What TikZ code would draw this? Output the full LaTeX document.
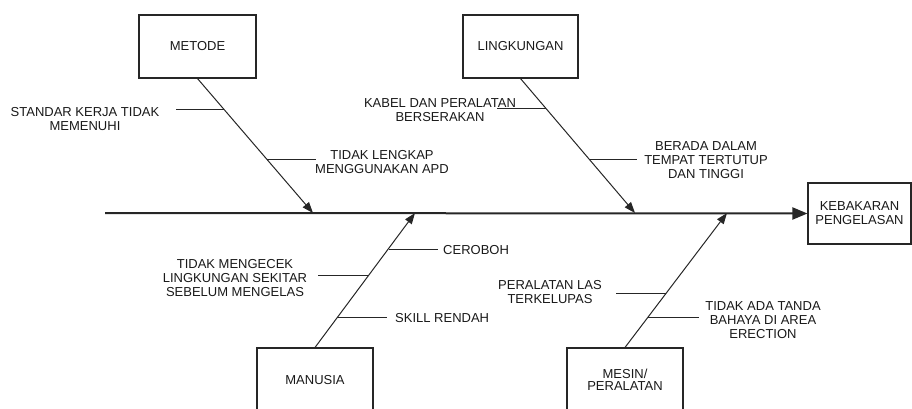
\documentclass[tikz,border=0pt]{standalone}
\usepackage{fontspec}
\setmainfont{Liberation Sans}
\usetikzlibrary{arrows.meta}
\begin{document}
\begin{tikzpicture}[x=1pt,y=-1pt,
  every node/.style={font=\fontsize{13}{14}\selectfont, inner sep=0pt, align=center, text=black!90},
  box/.style={draw=black!85, line width=1.1pt, rectangle},
  bone/.style={draw=black!85, line width=1pt, -{Triangle[length=11pt,width=8pt]}},
  rib/.style={draw=black!85, line width=0.9pt},
  spineline/.style={draw=black!85, line width=2pt, -{Triangle[length=15pt,width=12pt]}}]
\useasboundingbox (0,0) rectangle (912,408);
\clip (0,0) rectangle (912,408);

% category boxes
\node[box, minimum width=117pt, minimum height=63pt] (metode) at (197.5,46.5) {METODE};
\node[box, minimum width=115pt, minimum height=63pt] (lingk) at (520.5,46.5) {LINGKUNGAN};
\node[box, minimum width=116pt, minimum height=64pt] (manusia) at (315,380) {MANUSIA};
\node[box, minimum width=116pt, minimum height=64pt, font=\fontsize{13}{12.5}\selectfont] (mesin) at (625,380) {MESIN/\\PERALATAN};
\node[box, minimum width=103pt, minimum height=61pt] (effect) at (859.5,213.5) {KEBAKARAN\\PENGELASAN};

% spine
\coordinate (tail) at (105,213);
\draw[spineline] (tail) -- (effect.west);

% bone tips on spine
\coordinate (t1) at (313,213);
\coordinate (t2) at (635,213);
\coordinate (t3) at (415,213);
\coordinate (t4) at (727,213);
\draw[bone] (metode.south) -- (t1);
\draw[bone] (lingk.south) -- (t2);
\draw[bone] (manusia.north) -- (t3);
\draw[bone] (mesin.north) -- (t4);

% ribs
\coordinate (r1a) at (176,109); \coordinate (r1b) at (224,109);
\coordinate (r2a) at (267,159); \coordinate (r2b) at (316,159);
\coordinate (r3a) at (497,108); \coordinate (r3b) at (546,108);
\coordinate (r4a) at (590,159); \coordinate (r4b) at (637,159);
\coordinate (r5a) at (389,249); \coordinate (r5b) at (438,249);
\coordinate (r6a) at (318,275); \coordinate (r6b) at (368,275);
\coordinate (r7a) at (337,317); \coordinate (r7b) at (387,317);
\coordinate (r8a) at (616,293); \coordinate (r8b) at (666,293);
\coordinate (r9a) at (648,317); \coordinate (r9b) at (699,317);
\foreach \r in {1,...,9} {\draw[rib] (r\r a) -- (r\r b);}

% cause labels
\node (c1) at (85,119) {STANDAR KERJA TIDAK\\MEMENUHI};
\node (c2) at (382,162.5) {TIDAK LENGKAP\\MENGGUNAKAN APD};
\node (c3) at (440,110) {KABEL DAN PERALATAN\\BERSERAKAN};
\node (c4) at (706,160) {BERADA DALAM\\TEMPAT TERTUTUP\\DAN TINGGI};
\node[anchor=west] (c5) at (443,250) {CEROBOH};
\node (c6) at (235,278) {TIDAK MENGECEK\\LINGKUNGAN SEKITAR\\SEBELUM MENGELAS};
\node[anchor=west] (c7) at (395,318) {SKILL RENDAH};
\node (c8) at (550,292.5) {PERALATAN LAS\\TERKELUPAS};
\node (c9) at (763,320) {TIDAK ADA TANDA\\BAHAYA DI AREA\\ERECTION};
\end{tikzpicture}
\end{document}
